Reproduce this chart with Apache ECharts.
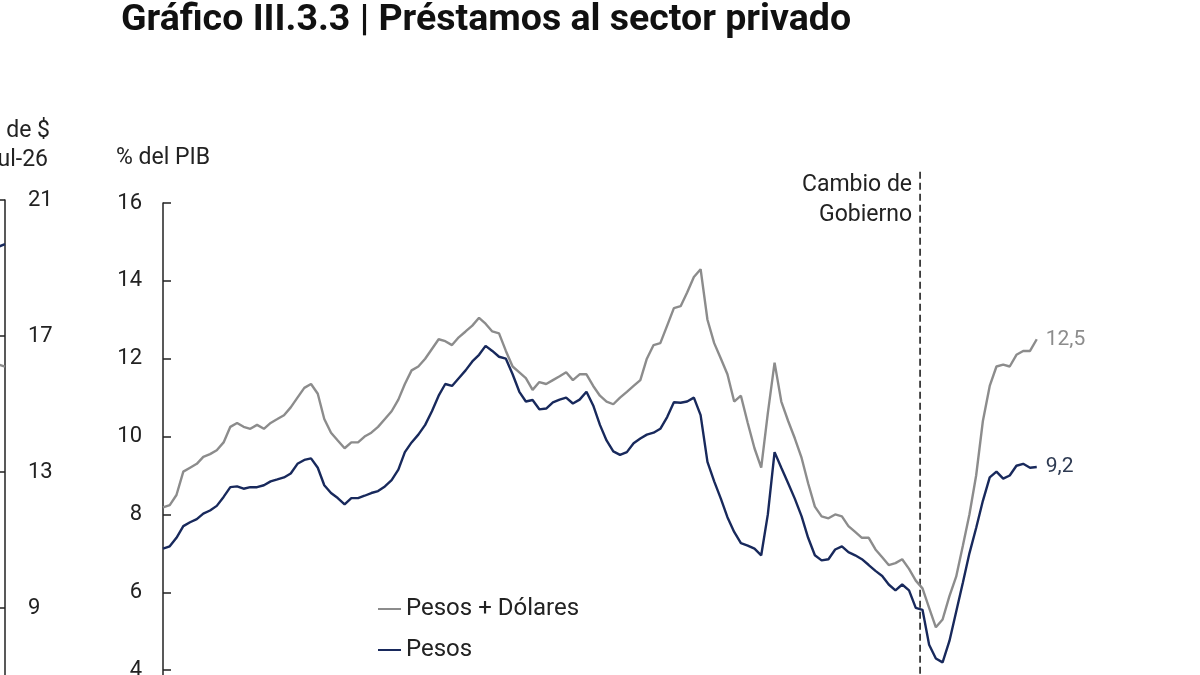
<!DOCTYPE html>
<html><head><meta charset="utf-8">
<script src="https://cdn.jsdelivr.net/npm/echarts@6/dist/echarts.min.js"></script>
<style>html,body{margin:0;padding:0;background:#fff;overflow:hidden}#c{width:1200px;height:800px}</style>
</head><body><div id="c"></div>
<script>
// Bimonthly observation dates
const dates = [
 '2005-03','2005-05','2005-07','2005-09','2005-11',
 '2006-01','2006-03','2006-05','2006-07','2006-09','2006-11',
 '2007-01','2007-03','2007-05','2007-07','2007-09','2007-11',
 '2008-01','2008-03','2008-05','2008-07','2008-09','2008-11',
 '2009-01','2009-03','2009-05','2009-07','2009-09','2009-11',
 '2010-01','2010-03','2010-05','2010-07','2010-09','2010-11',
 '2011-01','2011-03','2011-05','2011-07','2011-09','2011-11',
 '2012-01','2012-03','2012-05','2012-07','2012-09','2012-11',
 '2013-01','2013-03','2013-05','2013-07','2013-09','2013-11',
 '2014-01','2014-03','2014-05','2014-07','2014-09','2014-11',
 '2015-01','2015-03','2015-05','2015-07','2015-09','2015-11',
 '2016-01','2016-03','2016-05','2016-07','2016-09','2016-11',
 '2017-01','2017-03','2017-05','2017-07','2017-09','2017-11',
 '2018-01','2018-03','2018-05','2018-07','2018-09','2018-11',
 '2019-01','2019-03','2019-05','2019-07','2019-09','2019-11',
 '2020-01','2020-03','2020-05','2020-07','2020-09','2020-11',
 '2021-01','2021-03','2021-05','2021-07','2021-09','2021-11',
 '2022-01','2022-03','2022-05','2022-07','2022-09','2022-11',
 '2023-01','2023-03','2023-05','2023-07','2023-09','2023-11',
 '2024-01','2024-03','2024-05','2024-07','2024-09','2024-11',
 '2025-01','2025-03','2025-05','2025-07','2025-09','2025-11',
 '2026-01','2026-03','2026-05','2026-07','2026-09','2026-11'
];
// % del PIB
const pesosDolares = [
 8.18, 8.24, 8.5, 9.1, 9.2, 9.3, 9.48, 9.55, 9.65, 9.85,
 10.25, 10.35, 10.25, 10.2, 10.3, 10.2, 10.35, 10.45, 10.55, 10.75,
 11.0, 11.25, 11.35, 11.1, 10.45, 10.1, 9.9, 9.7, 9.85, 9.85,
 10.0, 10.1, 10.25, 10.45, 10.65, 10.95, 11.35, 11.7, 11.8, 12.0,
 12.25, 12.5, 12.45, 12.35, 12.55, 12.7, 12.85, 13.05, 12.9, 12.7,
 12.65, 12.2, 11.8, 11.65, 11.5, 11.2, 11.4, 11.35, 11.45, 11.55,
 11.65, 11.45, 11.6, 11.6, 11.3, 11.05, 10.9, 10.83, 11.0, 11.15,
 11.3, 11.45, 12.0, 12.35, 12.4, 12.85, 13.3, 13.35, 13.7, 14.1,
 14.3, 13.0, 12.4, 12.0, 11.6, 10.9, 11.05, 10.35, 9.7, 9.2,
 10.6, 11.9, 10.9, 10.4, 9.95, 9.45, 8.8, 8.2, 7.95, 7.9,
 8.0, 7.95, 7.7, 7.55, 7.4, 7.4, 7.1, 6.9, 6.7, 6.75,
 6.85, 6.6, 6.3, 6.1, 5.6, 5.1, 5.3, 5.9, 6.4, 7.2,
 8.0, 9.0, 10.4, 11.3, 11.8, 11.85, 11.8, 12.1, 12.2, 12.2, 12.5
];
const pesos = [
 7.12, 7.18, 7.4, 7.7, 7.8, 7.88, 8.02, 8.1, 8.22, 8.45,
 8.7, 8.72, 8.66, 8.7, 8.7, 8.75, 8.85, 8.9, 8.95, 9.05,
 9.3, 9.4, 9.44, 9.2, 8.75, 8.55, 8.42, 8.26, 8.42, 8.42,
 8.48, 8.55, 8.6, 8.72, 8.88, 9.15, 9.6, 9.85, 10.05, 10.3,
 10.65, 11.05, 11.35, 11.3, 11.5, 11.7, 11.93, 12.1, 12.33, 12.2,
 12.05, 12.0, 11.6, 11.15, 10.9, 10.94, 10.7, 10.72, 10.88, 10.95,
 11.0, 10.85, 10.95, 11.15, 10.8, 10.3, 9.9, 9.62, 9.53, 9.6,
 9.83, 9.95, 10.05, 10.1, 10.2, 10.5, 10.88, 10.87, 10.9, 11.0,
 10.55, 9.35, 8.85, 8.4, 7.93, 7.55, 7.26, 7.2, 7.12, 6.95,
 8.0, 9.6, 9.2, 8.8, 8.4, 7.95, 7.4, 6.95, 6.82, 6.85,
 7.1, 7.18, 7.03, 6.95, 6.85, 6.7, 6.55, 6.42, 6.2, 6.05,
 6.2, 6.05, 5.6, 5.55, 4.65, 4.3, 4.2, 4.75, 5.5, 6.25,
 7.0, 7.65, 8.35, 8.95, 9.1, 8.92, 9.0, 9.25, 9.3, 9.2, 9.22
];
const govChange = [['2023-12-10', 'Cambio de\nGobierno']];
// Partially visible neighbouring panel (de $ de jul-26)
const leftDates = ['2026-05','2026-06','2026-07'];
const leftPesos = [19.4, 19.1, 19.7];
const leftTotal = [16.9, 16.6, 16.1];

const GRAY = '#8c8c8c', NAVY = '#18295c', INK = '#222';
const FONT = 'Roboto';
const fmt = p => p.value[1].toFixed(1).replace('.', ',');

const chart = echarts.init(document.getElementById('c'), null, {renderer: 'canvas'});
chart.setOption({
  animation: false,
  textStyle: {fontFamily: FONT},
  grid: [
    {left: 163, top: 203, right: 150, bottom: 52, outerBoundsMode: 'none'},
    {left: -100, top: 200, width: 105, bottom: 56, outerBoundsMode: 'none'}
  ],
  xAxis: [
    {type: 'time', gridIndex: 0, min: '2005-03-01', max: '2027-03-01', show: false},
    {type: 'category', gridIndex: 1, data: leftDates, boundaryGap: false, show: false}
  ],
  yAxis: [
    {type: 'value', gridIndex: 0, min: 2, max: 16, interval: 2,
     name: '% del PIB', nameLocation: 'end', nameGap: 33,
     nameTextStyle: {fontSize: 23, color: INK, fontFamily: FONT},
     axisLine: {show: true, lineStyle: {color: INK, width: 1.5}},
     axisTick: {show: true, inside: true, length: 8, lineStyle: {color: INK, width: 1.5}},
     splitLine: {show: false},
     axisLabel: {fontSize: 22, color: INK, margin: 21, fontFamily: FONT, formatter: v => v === 2 ? '' : String(v)}},
    {type: 'value', gridIndex: 1, position: 'right', min: 5, max: 21, interval: 4,
     axisLine: {show: true, lineStyle: {color: INK, width: 1.5}},
     axisTick: {show: true, inside: true, length: 6, lineStyle: {color: INK, width: 1.5}},
     splitLine: {show: false},
     axisLabel: {fontSize: 22, color: INK, margin: 23, fontFamily: FONT}}
  ],
  legend: {
    orient: 'vertical', left: 378, top: 597, padding: 0, itemWidth: 23, itemHeight: 2, itemGap: 17,
    icon: 'rect', textStyle: {fontSize: 24, color: INK, fontFamily: FONT},
    data: ['Pesos + Dólares', 'Pesos']
  },
  series: [
    {name: 'Pesos + Dólares', type: 'line', xAxisIndex: 0, yAxisIndex: 0,
     data: dates.map((d, i) => [d, pesosDolares[i]]),
     symbol: 'none', lineStyle: {color: GRAY, width: 2.4}, itemStyle: {color: GRAY},
     endLabel: {show: true, formatter: fmt, color: GRAY, fontSize: 21, distance: 9, fontFamily: FONT}},
    {name: 'Pesos', type: 'line', xAxisIndex: 0, yAxisIndex: 0,
     data: dates.map((d, i) => [d, pesos[i]]),
     symbol: 'none', lineStyle: {color: NAVY, width: 2.4}, itemStyle: {color: NAVY},
     endLabel: {show: true, formatter: fmt, color: '#2e3a52', fontSize: 21, distance: 9, fontFamily: FONT}},
    {name: 'govChange', type: 'custom', xAxisIndex: 0, yAxisIndex: 0, clip: false, silent: true,
     data: govChange,
     renderItem: (params, api) => {
       const top = api.coord([api.value(0), 16.8]);
       const bot = api.coord([api.value(0), 2]);
       return {type: 'group', children: [
         {type: 'line', shape: {x1: top[0], y1: top[1], x2: bot[0], y2: bot[1]},
          style: {stroke: '#111', lineWidth: 1.5, lineDash: [7, 4]}},
         {type: 'text', x: top[0] - 8, y: top[1] + 28,
          style: {text: govChange[params.dataIndex][1], font: '23px Roboto', fill: INK,
                  align: 'right', verticalAlign: 'middle', lineHeight: 30}}
       ]};
     }},
    {name: 'leftTotal', type: 'line', xAxisIndex: 1, yAxisIndex: 1,
     data: leftTotal, symbol: 'none', lineStyle: {color: GRAY, width: 2.4}},
    {name: 'leftPesos', type: 'line', xAxisIndex: 1, yAxisIndex: 1,
     data: leftPesos, symbol: 'none', lineStyle: {color: NAVY, width: 2.4}}
  ],
  graphic: [
    {type: 'text', x: 121, y: 21,
     style: {text: 'Gráfico III.3.3 | Préstamos al sector privado', font: 'bold 37.5px Roboto', fill: '#111', textVerticalAlign: 'middle'}},
    {type: 'text', x: 50, y: 131,
     style: {text: 'de $', font: '23px Roboto', fill: INK, textAlign: 'right', textVerticalAlign: 'middle'}},
    {type: 'text', x: 48, y: 160,
     style: {text: 'ul-26', font: '23px Roboto', fill: INK, textAlign: 'right', textVerticalAlign: 'middle'}}
  ]
});
</script></body></html>
